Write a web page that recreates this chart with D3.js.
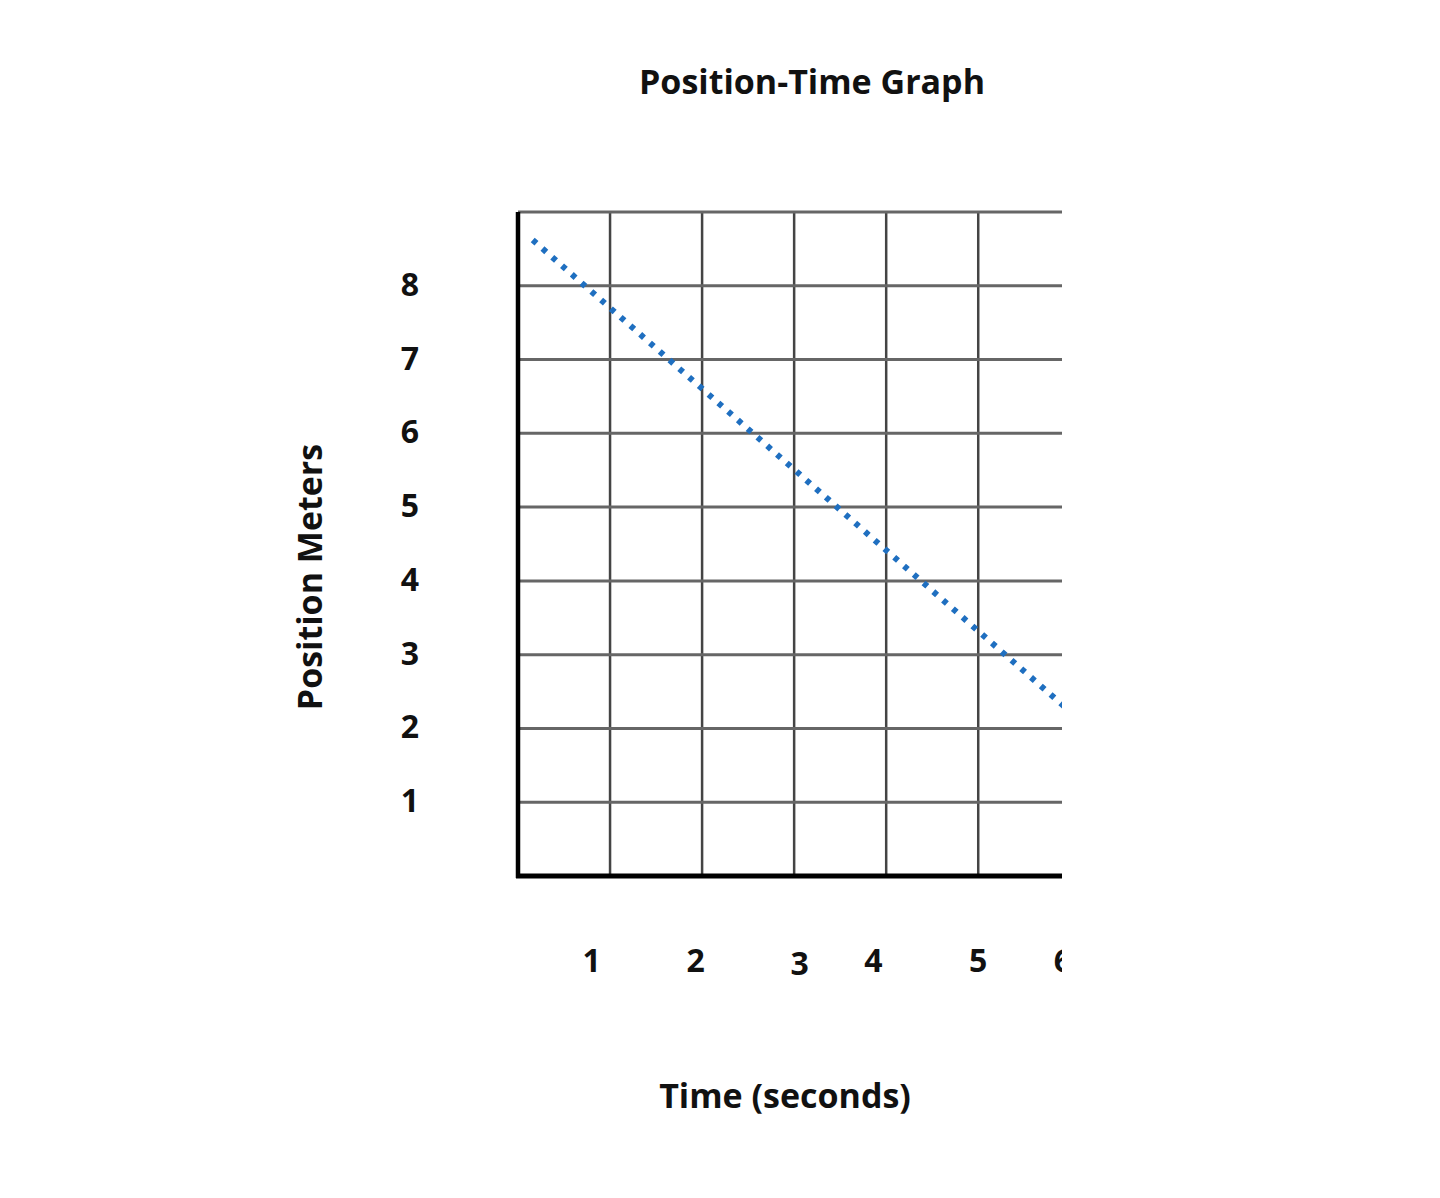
<!DOCTYPE html>
<html><head><meta charset="utf-8">
<script src="https://cdn.jsdelivr.net/npm/d3@7"></script>
<style>body{margin:0;background:#fff}text{font-family:"Open Sans",sans-serif;font-weight:bold;fill:#111}</style>
</head><body>
<script>
const yTicks = [1, 2, 3, 4, 5, 6, 7, 8];
const xGrid = [1, 2, 3, 4, 5, 6];
const xLabels = ["1", "2", "3", "4", "5", "6"];
const xLabelAt = [0.8, 1.93, 3.06, 3.86, 5.0, 5.92];   // where the labels sit (slightly off the grid)
const lineT = [0.16, 5.95];
const lineP = [8.62, 2.28];

const width = 1440, height = 1198;
const svg = d3.select("body").append("svg").attr("width", width).attr("height", height);

const x = d3.scaleLinear().domain([0, 5.91]).range([518, 1062]);
const y = d3.scaleLinear().domain([0, 9]).range([876, 212]);

svg.append("clipPath").attr("id", "clip").append("rect")
  .attr("x", 0).attr("y", 0).attr("width", 1062).attr("height", height);
const g = svg.append("g").attr("clip-path", "url(#clip)");

// grid
g.selectAll(".vg").data(xGrid).enter().append("line")
  .attr("x1", d => x(d)).attr("x2", d => x(d)).attr("y1", y(9)).attr("y2", y(0))
  .attr("stroke", "#444").attr("stroke-width", 2.5);
g.selectAll(".hg").data(yTicks.concat([9])).enter().append("line")
  .attr("x1", x(0)).attr("x2", 1070).attr("y1", d => y(d)).attr("y2", d => y(d))
  .attr("stroke", "#666").attr("stroke-width", 3);

// axes
g.append("line").attr("x1", x(0)).attr("x2", x(0)).attr("y1", y(9)).attr("y2", y(0) + 2)
  .attr("stroke", "#000").attr("stroke-width", 4.5);
g.append("line").attr("x1", x(0) - 2).attr("x2", 1070).attr("y1", y(0)).attr("y2", y(0))
  .attr("stroke", "#000").attr("stroke-width", 5);

// dotted line
g.append("line")
  .attr("x1", x(lineT[0])).attr("y1", y(lineP[0])).attr("x2", x(lineT[1])).attr("y2", y(lineP[1]))
  .attr("stroke", "#1f6fc0").attr("stroke-width", 6)
  .attr("stroke-dasharray", "5 8").attr("stroke-linecap", "butt");

// tick labels
svg.selectAll(".yl").data(yTicks).enter().append("text")
  .attr("x", 410).attr("y", d => y(d) + 10).attr("text-anchor", "middle")
  .style("font-size", "32px").text(d => d);
g.selectAll(".xl").data(xLabels).enter().append("text")
  .attr("x", (d, i) => x(xLabelAt[i])).attr("y", (d, i) => i === 2 ? 975 : 972)
  .attr("text-anchor", "middle").style("font-size", "32px").text(d => d);

// titles
svg.append("text").attr("x", 812).attr("y", 94).attr("text-anchor", "middle")
  .style("font-size", "34px").text("Position-Time Graph");
svg.append("text").attr("transform", "rotate(-90)").attr("x", -577).attr("y", 322)
  .attr("text-anchor", "middle").style("font-size", "34px").text("Position Meters");
svg.append("text").attr("x", 785).attr("y", 1108).attr("text-anchor", "middle")
  .style("font-size", "34px").text("Time (seconds)");
</script>
</body></html>
